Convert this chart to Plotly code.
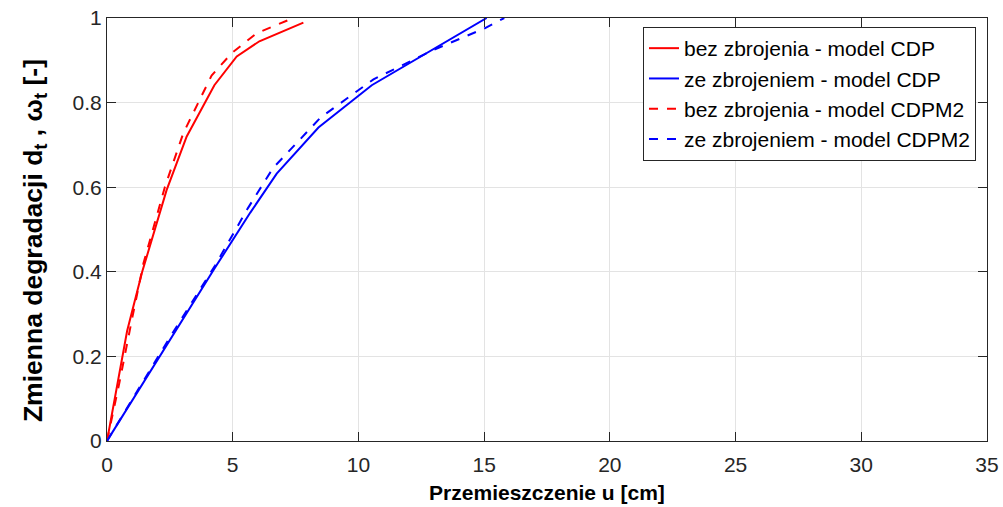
import plotly.graph_objects as go

# Data
x_red_cdp = [0, 0.8, 1.4, 2.37, 3.17, 4.27, 5.16, 6.06, 7.81]
y_red_cdp = [0, 0.26, 0.40, 0.593, 0.72, 0.841, 0.909, 0.945, 0.989]

x_blue_cdp = [0, 1.25, 2.5, 4.3, 5.7, 6.75, 8.41, 10.53, 15.1]
y_blue_cdp = [0, 0.12, 0.24, 0.41, 0.54, 0.632, 0.741, 0.841, 1.0]

x_red_cdpm2 = [0, 0.5, 1.0, 1.45, 2.3, 3.03, 4.16, 4.96, 5.95, 7.41]
y_red_cdpm2 = [0, 0.14, 0.29, 0.42, 0.60, 0.727, 0.864, 0.917, 0.964, 1.0]

x_blue_cdpm2 = [0, 2.5, 4.3, 5.6, 6.6, 8.5, 10.6, 13.0, 15.0, 15.8]
y_blue_cdpm2 = [0, 0.245, 0.415, 0.55, 0.645, 0.765, 0.855, 0.925, 0.975, 1.0]

names = ["bez zbrojenia - model CDP", "ze zbrojeniem - model CDP",
         "bez zbrojenia - model CDPM2", "ze zbrojeniem - model CDPM2"]

x_ticks = [0, 5, 10, 15, 20, 25, 30, 35]
y_ticks = [0, 0.2, 0.4, 0.6, 0.8, 1]
y_ticklabels = ["0", "0.2", "0.4", "0.6", "0.8", "1"]

fig = go.Figure()
series = [
    (x_red_cdp, y_red_cdp, "#ff0000", "solid"),
    (x_blue_cdp, y_blue_cdp, "#0000ff", "solid"),
    (x_red_cdpm2, y_red_cdpm2, "#ff0000", "dash"),
    (x_blue_cdpm2, y_blue_cdpm2, "#0000ff", "dash"),
]
for (xs, ys, c, d), n in zip(series, names):
    fig.add_trace(go.Scatter(x=xs, y=ys, mode="lines", name=n,
                             line=dict(color=c, width=2, dash=d)))

FONT = "Liberation Sans, Arial, Helvetica"
axis_common = dict(
    showline=True, linecolor="#262626", linewidth=1, mirror="ticks",
    ticks="inside", ticklen=9, tickcolor="#262626",
    showgrid=True, gridcolor="#e3e3e3", gridwidth=1, zeroline=False,
    tickfont=dict(family=FONT, size=21, color="#262626"),
    ticklabeloverflow="allow", automargin=False,
)

fig.update_layout(
    width=1003, height=507,
    margin=dict(l=107, r=16, t=18, b=66),
    paper_bgcolor="white", plot_bgcolor="white",
    xaxis=dict(range=[0, 35], tickvals=x_ticks, ticklabelstandoff=5,
               title=dict(text="<b>Przemieszczenie u [cm]</b>", standoff=10,
                          font=dict(family=FONT, size=21, color="black")),
               **axis_common),
    yaxis=dict(range=[0, 1], tickvals=y_ticks, ticktext=y_ticklabels,
               title=dict(text="<b>Zmienna degradacji d<sub>t</sub> , ω<sub>t</sub> [-]&nbsp;&nbsp;&nbsp;</b>", standoff=22,
                          font=dict(family=FONT, size=26.5, color="black")),
               **axis_common),
    legend=dict(x=0.9875, y=0.9787, xanchor="right", yanchor="top",
                bgcolor="white", bordercolor="#262626", borderwidth=1,
                font=dict(family=FONT, size=21, color="black"),
                tracegroupgap=0, itemwidth=30),
    showlegend=True,
)

fig.write_html("out.html", config={"displayModeBar": False},
               post_script="document.body.style.margin='0';")
